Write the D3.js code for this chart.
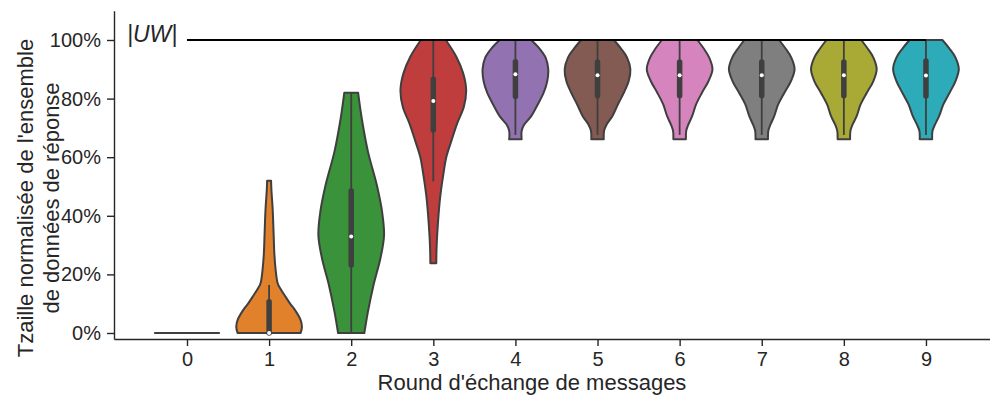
<!DOCTYPE html>
<html>
<head>
<meta charset="utf-8">
<script src="https://cdn.jsdelivr.net/npm/d3@7"></script>
<style>
  html, body { margin: 0; padding: 0; background: #fff; }
  svg { display: block; font-family: "Liberation Sans", Arial, sans-serif; }
  .axis path, .axis line { stroke: #262626; stroke-width: 1.4; }
  .axis text { fill: #262626; font-size: 20px; }
</style>
</head>
<body>
<div id="chart"></div>
<script>
const W= 990, H= 399;

const rounds= [0, 1, 2, 3, 4, 5, 6, 7, 8, 9];
const colors= ['#3274a1', '#e1812c', '#3a923a', '#c03d3e', '#9372b2',
  '#845b53', '#d684bd', '#7f7f7f', '#a9aa35', '#2eabb8'];
const yTicks= [0, 0.2, 0.4, 0.6, 0.8, 1.0];

// violin outlines: [value, relative half-width]
const profiles= [
  [[0, 1], [0, 1]],
  [[0, 0.96], [0.02, 1.0], [0.044, 0.96], [0.078, 0.79], [0.10, 0.64], [0.124, 0.5], [0.15, 0.35],
   [0.17, 0.26], [0.215, 0.2], [0.27, 0.16], [0.33, 0.14], [0.42, 0.11], [0.49, 0.07], [0.52, 0.06]],
  [[0, 0.40], [0.073, 0.51], [0.164, 0.68], [0.255, 0.89], [0.334, 1.0], [0.414, 0.94],
   [0.505, 0.78], [0.619, 0.51], [0.733, 0.32], [0.82, 0.21]],
  [[0.238, 0.09], [0.295, 0.10], [0.374, 0.14], [0.465, 0.21], [0.545, 0.31], [0.602, 0.40],
   [0.659, 0.56], [0.716, 0.73], [0.772, 0.93], [0.829, 1.0], [0.886, 0.91], [0.943, 0.70], [1.0, 0.38]],
  [[0.661, 0.19], [0.69, 0.19], [0.71, 0.26], [0.74, 0.48], [0.78, 0.68], [0.82, 0.86],
   [0.86, 0.97], [0.90, 1.0], [0.94, 0.92], [0.97, 0.74], [1.0, 0.48]],
  [[0.661, 0.19], [0.69, 0.2], [0.71, 0.27], [0.74, 0.45], [0.78, 0.62], [0.82, 0.8],
   [0.86, 0.95], [0.90, 1.0], [0.94, 0.9], [0.97, 0.72], [1.0, 0.5]],
  [[0.661, 0.19], [0.69, 0.2], [0.71, 0.26], [0.74, 0.38], [0.78, 0.5], [0.82, 0.68],
   [0.86, 0.88], [0.90, 1.0], [0.94, 0.9], [0.97, 0.74], [1.0, 0.54]],
  [[0.661, 0.19], [0.69, 0.2], [0.71, 0.26], [0.74, 0.38], [0.78, 0.5], [0.82, 0.69],
   [0.86, 0.89], [0.90, 1.0], [0.94, 0.9], [0.97, 0.73], [1.0, 0.53]],
  [[0.661, 0.19], [0.69, 0.2], [0.71, 0.26], [0.74, 0.39], [0.78, 0.51], [0.82, 0.7],
   [0.86, 0.9], [0.90, 1.0], [0.94, 0.9], [0.97, 0.73], [1.0, 0.53]],
  [[0.661, 0.19], [0.69, 0.2], [0.71, 0.27], [0.74, 0.4], [0.78, 0.53], [0.82, 0.72],
   [0.86, 0.9], [0.90, 1.0], [0.94, 0.9], [0.97, 0.72], [1.0, 0.5]],
];

// inner box: [whisker low, q1, median, q3, whisker high]
const boxes= [
  [0, 0, 0, 0, 0],
  [0, 0, 0, 0.107, 0.164],
  [0, 0.232, 0.329, 0.485, 0.82],
  [0.517, 0.693, 0.792, 0.866, 1.0],
  [0.676, 0.807, 0.883, 0.926, 1.0],
  [0.676, 0.81, 0.88, 0.925, 1.0],
  [0.676, 0.81, 0.88, 0.925, 1.0],
  [0.676, 0.81, 0.88, 0.925, 1.0],
  [0.676, 0.81, 0.88, 0.925, 1.0],
  [0.676, 0.809, 0.879, 0.928, 1.0],
];

const uwLevel= 1.0;

const svg= d3.select('#chart').append('svg')
  .attr('width', W).attr('height', H);

const x= d3.scaleLinear().domain([-0.889, 9.78]).range([114, 990]);
const y= d3.scaleLinear().domain([-0.0205, 1.1]).range([339, 10.7]);
const halfW= x(0.4)-x(0);

const outline= '#3f3f3f';

// violins
const gV= svg.append('g');
rounds.forEach((r, i) => {
  const prof= profiles[i];
  if (i === 0) {
    gV.append('line')
      .attr('x1', x(r)-halfW).attr('x2', x(r)+halfW)
      .attr('y1', y(0)).attr('y2', y(0))
      .attr('stroke', outline).attr('stroke-width', 2.2);
    return;
  }
  const area= d3.area()
    .y(d => y(d[0]))
    .x0(d => x(r)-d[1]*halfW)
    .x1(d => x(r)+d[1]*halfW)
    .curve(d3.curveCatmullRom);
  gV.append('path')
    .attr('d', area(prof))
    .attr('fill', colors[i])
    .attr('stroke', outline)
    .attr('stroke-width', 2)
    .attr('stroke-linejoin', 'round');

  const b= boxes[i];
  gV.append('line')
    .attr('x1', x(r)).attr('x2', x(r))
    .attr('y1', y(b[0])).attr('y2', y(b[4]))
    .attr('stroke', outline).attr('stroke-width', 1.8);
  gV.append('line')
    .attr('x1', x(r)).attr('x2', x(r))
    .attr('y1', y(b[1])).attr('y2', y(b[3]))
    .attr('stroke', outline).attr('stroke-width', 5.5)
    .attr('stroke-linecap', 'round');
  gV.append('circle')
    .attr('cx', x(r)).attr('cy', y(b[2])).attr('r', 2)
    .attr('fill', '#fff');
});

// |UW| reference line
svg.append('line')
  .attr('x1', x(0)).attr('x2', x(9))
  .attr('y1', y(uwLevel)).attr('y2', y(uwLevel))
  .attr('stroke', '#000').attr('stroke-width', 1.8);

svg.append('text')
  .attr('x', 127).attr('y', 42)
  .attr('font-size', 23)
  .attr('font-style', 'italic')
  .attr('fill', '#262626')
  .text('|UW|');

// axes
svg.append('g')
  .attr('class', 'axis')
  .attr('transform', `translate(0,${y.range()[0]})`)
  .call(d3.axisBottom(x).tickValues(rounds).tickFormat(d3.format('d'))
    .tickSize(7).tickSizeOuter(0).tickPadding(6));

svg.append('g')
  .attr('class', 'axis')
  .attr('transform', `translate(${x.range()[0]},0)`)
  .call(d3.axisLeft(y).tickValues(yTicks).tickFormat(d3.format('.0%'))
    .tickSize(7).tickSizeOuter(0).tickPadding(6));

// labels
svg.append('text')
  .attr('x', 532).attr('y', 390)
  .attr('text-anchor', 'middle')
  .attr('font-size', 22)
  .attr('fill', '#262626')
  .text("Round d'échange de messages");

const yl= svg.append('text')
  .attr('transform', 'translate(33,198) rotate(-90)')
  .attr('text-anchor', 'middle')
  .attr('font-size', 22)
  .attr('fill', '#262626');
yl.append('tspan').attr('x', 0).attr('y', 0).text("Tzaille normalisée de l'ensemble");
yl.append('tspan').attr('x', 0).attr('y', 26).text('de données de réponse');
</script>
</body>
</html>
